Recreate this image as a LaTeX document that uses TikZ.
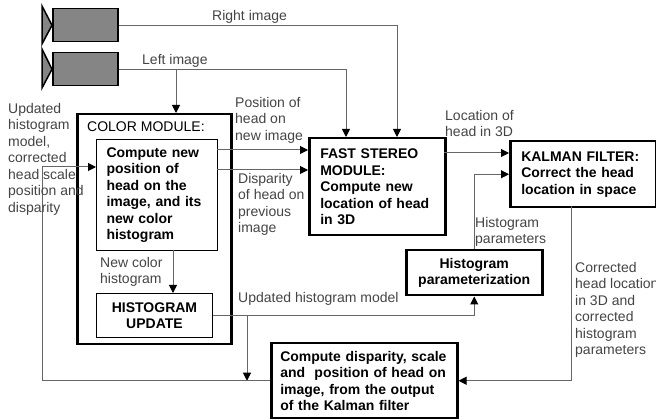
\documentclass[tikz,border=0pt]{standalone}
\usepackage{fontspec}
\setmainfont{Liberation Sans}
\usetikzlibrary{arrows.meta}

\definecolor{linegray}{HTML}{666666}
\definecolor{textgray}{HTML}{444444}
\definecolor{camgray}{HTML}{858585}

\begin{document}
\begin{tikzpicture}[x=1pt,y=-1pt,
    font=\fontsize{14}{16.5}\selectfont,
    box/.style={draw,line width=2.5pt,anchor=north west,inner ysep=0pt,align=left,font=\fontsize{14}{16.5}\selectfont\bfseries},
    thinbox/.style={draw,line width=1pt,anchor=north west,inner sep=0pt,align=center,font=\fontsize{14}{16.5}\selectfont\bfseries},
    lbl/.style={text=textgray,anchor=north west,inner sep=0pt,align=left},
    conn/.style={draw=linegray,line width=1pt},
    flow/.style={-{Triangle[length=8pt,width=8pt,color=black]}},
    cam/.style={draw,line width=1.5pt,fill=camgray,anchor=north west,inner sep=0pt,minimum width=65,minimum height=33}]
    \useasboundingbox (0,0) rectangle (656,419);
    % Cameras
    \node[cam] (camR) at (52,8) {};
    \node[cam] (camL) at (52,52) {};
    \draw[fill=camgray,line width=1.5pt] (42,6) -- (camR.west) -- (42,44) -- cycle;
    \draw[fill=camgray,line width=1.5pt] (42,49) -- (camL.west) -- (42,88) -- cycle;
    % Modules
    \node[draw,line width=2.5pt,anchor=north west,minimum width=154,minimum height=230] (color) at (76,113) {};
    \node[anchor=base west,inner sep=0pt] (ctitle) at (87,132) {COLOR MODULE:};
    \node[box,line width=1pt,inner xsep=10pt,text width=101,minimum height=111] (cnew) at (96,139)
        {Compute new\\position of\\head on the\\image, and its\\new color\\histogram};
    \node[thinbox,minimum width=116,minimum height=44] (hupd) at (96,293) {HISTOGRAM\\UPDATE};
    \node[box,inner xsep=11pt,text width=114,minimum height=97] (stereo) at (308,137)
        {FAST STEREO\\MODULE:\\Compute new\\location of head\\in 3D};
    \node[box,inner xsep=11pt,text width=124,minimum height=66] (kalman) at (509,140)
        {KALMAN FILTER:\\Correct the head\\location in space};
    \node[box,align=center,inner xsep=0pt,minimum width=136,minimum height=45] (hpar) at (405,249)
        {Histogram\\parameterization};
    \node[box,inner xsep=9pt,text width=168,minimum height=75] (disp) at (270,342)
        {Compute disparity, scale\\and~ position of head on\\image, from the output\\of the Kalman filter};
    % Bend points
    \coordinate (lsplit) at (176,69);
    \coordinate (pos) at (217,150);
    \coordinate (dis) at (217,170);
    \coordinate (hist) at (173,250);
    \coordinate (hsplit) at (247,315);
    \coordinate (loc) at (444,153);
    \coordinate (kout) at (571,206);
    \coordinate (fbk) at (42,167);
    % Connectors
    \draw[conn,flow] (camR.east) -| (397,137);
    \draw[conn,flow] (camL.east) -| (346,137);
    \draw[conn,flow] (lsplit) -- (lsplit |- color.north);
    \draw[conn,flow] (pos) -- (pos -| stereo.west);
    \draw[conn,flow] (dis) -- (dis -| stereo.west);
    \draw[conn,flow] (hist) -- (hist |- hupd.north);
    \draw[conn,flow] (hupd.east) -| (hpar.south);
    \draw[conn,flow] (hsplit) -- (hsplit |- disp.west);
    \draw[conn,flow] (loc) -- (loc -| kalman.west);
    \draw[conn,flow] (hpar.north) |- (kalman.west);
    \draw[conn,flow] (kout) |- (disp.east);
    \draw[conn,flow] (disp.west) -| (fbk) -- (fbk -| cnew.west);
    % Labels
    \node[lbl,anchor=base west] (lright) at (212,21) {Right image};
    \node[lbl,anchor=base west] (lleft) at (142,65) {Left image};
    \node[lbl] (lpos) at (235,97) {Position of\\head on\\new image};
    \node[lbl] (ldis) at (238,173) {Disparity\\of head on\\previous\\image};
    \node[lbl] (lfbk) at (8,103) {Updated\\histogram\\model,\\corrected\\head scale\\position and\\disparity};
    \node[lbl] (lnew) at (100,257) {New color\\histogram};
    \node[lbl,anchor=base west] (lupd) at (238,303) {Updated histogram model};
    \node[lbl] (lloc) at (445,110) {Location of\\head in 3D};
    \node[lbl] (lpar) at (475,217) {Histogram\\parameters};
    \node[lbl] (lcor) at (575,262) {Corrected\\head location\\in 3D and\\corrected\\histogram\\parameters};
\end{tikzpicture}
\end{document}
